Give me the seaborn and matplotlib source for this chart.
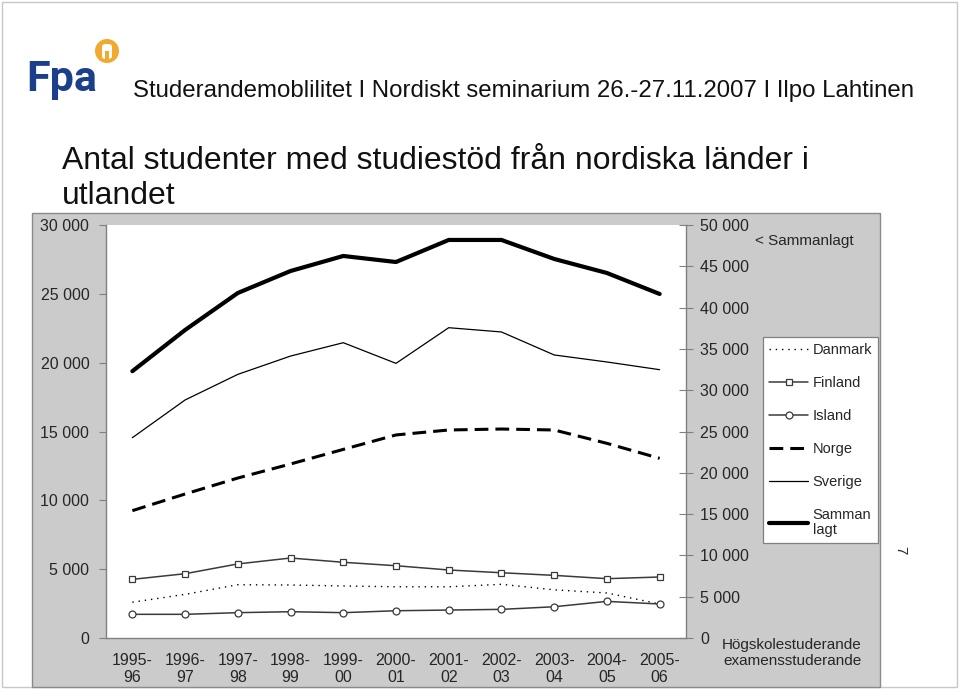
import numpy as np
import pandas as pd
import matplotlib
matplotlib.use("Agg")
import matplotlib.pyplot as plt
import seaborn as sns
from matplotlib.lines import Line2D
from matplotlib.patches import Rectangle, Ellipse, FancyBboxPatch
from matplotlib.ticker import FuncFormatter, FixedLocator

# ---------------- data ----------------
periods = ["1995-\n96", "1996-\n97", "1997-\n98", "1998-\n99", "1999-\n00", "2000-\n01",
           "2001-\n02", "2002-\n03", "2003-\n04", "2004-\n05", "2005-\n06"]
danmark = [2600, 3170, 3870, 3850, 3780, 3720, 3720, 3900, 3500, 3270, 2470]
finland = [4260, 4670, 5380, 5810, 5500, 5250, 4940, 4740, 4550, 4310, 4430]
island = [1720, 1720, 1840, 1910, 1840, 1980, 2030, 2080, 2270, 2660, 2470]
norge = [9250, 10460, 11620, 12640, 13700, 14750, 15110, 15180, 15110, 14140, 13050]
sverige = [14550, 17290, 19150, 20480, 21450, 19950, 22540, 22230, 20560, 20050, 19490]
sammanlagt = [32300, 37290, 41770, 44430, 46250, 45520, 48190, 48190, 45890, 44190, 41650]

left_ticks = [0, 5000, 10000, 15000, 20000, 25000, 30000]
right_ticks = [0, 5000, 10000, 15000, 20000, 25000, 30000, 35000, 40000, 45000, 50000]

header = "Studerandemoblilitet I Nordiskt seminarium 26.-27.11.2007 I Ilpo Lahtinen"
title1 = "Antal studenter med studiestöd från nordiska länder i"
title2 = "utlandet"

# ---------------- style ----------------
sns.set_style("white")
plt.rcParams["font.family"] = ["Liberation Sans", "DejaVu Sans"]

W, H = 959, 689
fig = plt.figure(figsize=(W / 100, H / 100), dpi=100)
fig.patch.set_facecolor("white")


def fx(x):
    return x / W


def fy(y):
    return 1 - y / H


# slide border
fig.patches.append(Rectangle((fx(2), fy(687)), fx(955), 685 / H, transform=fig.transFigure,
                             facecolor="none", edgecolor="#c8c8c8", lw=1.0, zorder=-2))
# grey chart area
fig.patches.append(Rectangle((fx(32), fy(687)), fx(848), 474 / H, transform=fig.transFigure,
                             facecolor="#cbcbcb", edgecolor="#8a8a8a", lw=1.0, zorder=-1))

ax = fig.add_axes([fx(106), fy(638), fx(580), 413 / H])
ax.set_facecolor("white")
ax2 = ax.twinx()

idx = np.arange(len(periods))
df = pd.DataFrame({"i": idx, "Danmark": danmark, "Finland": finland, "Island": island,
                   "Norge": norge, "Sverige": sverige, "Sammanlagt": sammanlagt})

dark = "#3a3a3a"
sns.lineplot(data=df, x="i", y="Sverige", ax=ax, color="black", lw=0.9, legend=False)
sns.lineplot(data=df, x="i", y="Norge", ax=ax, color="black", lw=2.2,
             linestyle=(0, (4.5, 2.3)), legend=False)
sns.lineplot(data=df, x="i", y="Danmark", ax=ax, color="black", lw=1.0,
             linestyle=(0, (1, 3.5)), legend=False)
sns.lineplot(data=df, x="i", y="Finland", ax=ax, color=dark, lw=1.1, marker="s", markersize=5,
             markerfacecolor="white", markeredgecolor=dark, markeredgewidth=0.9, legend=False)
sns.lineplot(data=df, x="i", y="Island", ax=ax, color=dark, lw=1.1, marker="o", markersize=5,
             markerfacecolor="white", markeredgecolor=dark, markeredgewidth=0.9, legend=False)
sns.lineplot(data=df, x="i", y="Sammanlagt", ax=ax2, color="black", lw=3.0, legend=False)

fmt = FuncFormatter(lambda v, p: f"{int(v):,}".replace(",", " "))

ax.set_xlim(-0.5, len(periods) - 0.5)
ax.set_ylim(0, 30000)
ax2.set_ylim(0, 50000)
ax.set_yticks(left_ticks)
ax2.set_yticks(right_ticks)
ax.yaxis.set_major_formatter(fmt)
ax2.yaxis.set_major_formatter(fmt)
ax.set_xlabel("")
ax.set_ylabel("")
ax2.set_ylabel("")

# category boundary ticks + centred labels
ax.xaxis.set_major_locator(FixedLocator(np.arange(0.5, len(periods) - 1, 1.0)))
ax.xaxis.set_minor_locator(FixedLocator(idx))
ax.set_xticklabels([])
ax.set_xticklabels(periods, minor=True)
ax.tick_params(axis="x", which="major", direction="inout", length=10, width=0.8, color="#808080")
ax.tick_params(axis="x", which="minor", length=0, pad=11, labelsize=11.5)
for t in ax.get_xticklabels(minor=True):
    t.set_linespacing(1.12)
ax.tick_params(axis="y", direction="out", length=5, width=0.8, color="#808080", labelsize=11.5, pad=7)
ax2.tick_params(axis="y", direction="inout", length=10, width=0.8, color="#808080", labelsize=11.5, pad=5)

for a in (ax, ax2):
    for s in a.spines.values():
        s.set_visible(False)
ax.spines["left"].set_visible(True)
ax.spines["bottom"].set_visible(True)
ax2.spines["right"].set_visible(True)
for s in (ax.spines["left"], ax.spines["bottom"], ax2.spines["right"]):
    s.set_color("#808080")
    s.set_linewidth(1.0)

# legend
handles = [
    Line2D([], [], color="black", lw=1.0, linestyle=(0, (1, 3.5))),
    Line2D([], [], color=dark, lw=1.1, marker="s", markersize=5, markerfacecolor="white",
           markeredgecolor=dark, markeredgewidth=0.9),
    Line2D([], [], color=dark, lw=1.1, marker="o", markersize=5, markerfacecolor="white",
           markeredgecolor=dark, markeredgewidth=0.9),
    Line2D([], [], color="black", lw=2.2, linestyle=(0, (4.5, 2.3))),
    Line2D([], [], color="black", lw=0.9),
    Line2D([], [], color="black", lw=3.0),
]
labels = ["Danmark", "Finland", "Island", "Norge", "Sverige", "Samman\nlagt"]
leg = fig.legend(handles, labels, loc="upper left", bbox_to_anchor=(fx(763), fy(337)),
                 bbox_transform=fig.transFigure, borderaxespad=0, fontsize=10.5,
                 frameon=True, fancybox=False, edgecolor="#808080", facecolor="white",
                 framealpha=1, handlelength=2.7, handletextpad=0.3, labelspacing=1.3,
                 borderpad=0.4)
leg.get_frame().set_linewidth(0.9)
for t in leg.get_texts():
    t.set_linespacing(1.12)

# texts
fig.text(fx(755), fy(245), "< Sammanlagt", fontsize=11, va="baseline", ha="left")
fig.text(fx(792), fy(653), "Högskolestuderande\nexamensstuderande", fontsize=11, ha="center",
         va="center", linespacing=1.1)
fig.text(fx(900), fy(550), "7", fontsize=11, rotation=270, ha="center", va="center")

renderer = fig.canvas.get_renderer()


def fit_text(x, y, s, width, size, **kw):
    t = fig.text(fx(x), fy(y), s, fontsize=size, va="baseline", ha="left", **kw)
    w = t.get_window_extent(renderer).width
    t.set_fontsize(size * width / w)
    return t


fit_text(133, 97, header, 779, 20, color="#111111")
t1 = fit_text(62, 169, title1, 744, 20, color="#111111")
fig.text(fx(62), fy(204), title2, fontsize=t1.get_fontsize(), va="baseline", ha="left",
         color="#111111")

# Fpa logo
fig.text(fx(26), fy(91), "Fpa", fontsize=31, family=["Roboto", "DejaVu Sans"], weight="bold",
         color="#1c3f8c", va="baseline", ha="left")
fig.patches.append(Ellipse((fx(107), fy(51)), 24 / W, 24 / H, transform=fig.transFigure,
                           facecolor="#f2a930", edgecolor="none"))
fig.patches.append(FancyBboxPatch((fx(102), fy(59)), 10 / W, 15 / H, transform=fig.transFigure,
                                  boxstyle="round,pad=0,rounding_size=0.004",
                                  facecolor="white", edgecolor="none"))
fig.patches.append(Rectangle((fx(105), fy(59)), 4 / W, 8 / H, transform=fig.transFigure,
                             facecolor="#f2a930", edgecolor="none"))

fig.savefig("out.png", dpi=100)
